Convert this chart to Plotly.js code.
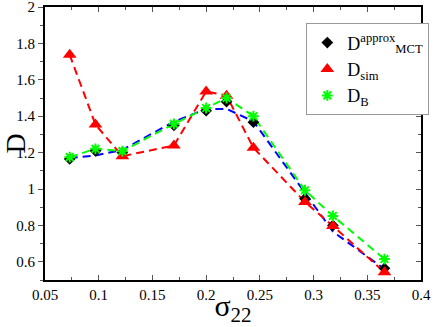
<!DOCTYPE html>
<html>
<head>
<meta charset="utf-8">
<script src="https://cdn.plot.ly/plotly-3.0.1.min.js"></script>
<style>html,body{margin:0;padding:0;background:#fff;}#chart{width:436px;height:327px;}</style>
</head>
<body>
<div id="chart"></div>
<script>
var sigma = [0.073, 0.097, 0.122, 0.170, 0.200, 0.219, 0.244, 0.292, 0.318, 0.366];
var dApprox = [1.165, 1.21, 1.20, 1.35, 1.43, 1.48, 1.367, 0.947, 0.80, 0.564];
var dApproxLine = [1.17, 1.184, 1.215, 1.37, 1.44, 1.44, 1.372, 0.976, 0.766, 0.56];
var dSim = [1.737, 1.354, 1.18, 1.239, 1.536, 1.513, 1.227, 0.929, 0.797, 0.542];
var dB = [1.175, 1.221, 1.208, 1.358, 1.445, 1.50, 1.40, 0.993, 0.852, 0.615];
var xTicks = [0.05, 0.1, 0.15, 0.2, 0.25, 0.3, 0.35, 0.4];
var xTickText = ['0.05', '0.1', '0.15', '0.2', '0.25', '0.3', '0.35', '0.4'];
var yTicks = [0.6, 0.8, 1, 1.2, 1.4, 1.6, 1.8, 2];
var yTickText = ['0.6', '0.8', '1', '1.2', '1.4', '1.6', '1.8', '2'];

var serif = 'Liberation Serif';

var traces = [
  {x: sigma, y: dApproxLine, mode: 'lines', showlegend: false,
   line: {color: '#0000ff', width: 2, dash: '8px,5px'}},
  {x: sigma, y: dSim, mode: 'lines', showlegend: false,
   line: {color: '#ff0000', width: 2, dash: '8px,5px'}},
  {x: sigma, y: dB, mode: 'lines', showlegend: false,
   line: {color: '#00ff00', width: 2, dash: '8px,5px'}},
  {x: sigma, y: dApprox, mode: 'markers', name: 'D<sup>approx</sup><sub>MCT</sub>',
   marker: {symbol: 'diamond', color: '#000000', size: 9}},
  {x: sigma, y: dSim, mode: 'markers', name: 'D<sub>sim</sub>',
   marker: {symbol: 'triangle-up', color: '#ff0000', size: 12}},
  {x: sigma, y: dB, mode: 'markers', name: 'D<sub>B</sub>',
   marker: {symbol: 'asterisk-open', color: '#00ff00', size: 9, line: {color: '#00ff00', width: 2}}}
];

var xr = [0.05, 0.4], yr = [0.5, 2];
var tickC = '#555';
var layout = {
  width: 436, height: 327,
  margin: {l: 45, r: 13, t: 7, b: 47},
  paper_bgcolor: '#ffffff', plot_bgcolor: '#ffffff',
  font: {family: serif, color: '#000', size: 15},
  showlegend: true,
  legend: {x: 0.695, y: 0.94, xanchor: 'left', yanchor: 'top',
    bgcolor: '#ffffff', bordercolor: '#999999', borderwidth: 1,
    font: {family: serif, size: 18, color: '#000'}, itemwidth: 30, tracegroupgap: 0},
  xaxis: {range: xr, tickmode: 'array', tickvals: xTicks, ticktext: xTickText, showgrid: false, zeroline: false,
    showline: true, linecolor: '#000', linewidth: 2, ticks: 'inside', ticklen: 5, tickcolor: tickC, tickwidth: 1,
    ticklabeloverflow: 'allow',
    minor: {dtick: 0.025, tick0: 0, ticks: 'inside', ticklen: 3, tickcolor: tickC, showgrid: false},
    tickfont: {family: serif, size: 15, color: '#000'}, title: {text: 'σ<sub>22</sub>', font: {family: serif, size: 30}, standoff: 2}},
  yaxis: {range: yr, tickmode: 'array', tickvals: yTicks, ticktext: yTickText, showgrid: false, zeroline: false,
    showline: true, linecolor: '#000', linewidth: 2, ticks: 'outside', ticklen: 5, tickcolor: tickC, tickwidth: 1,
    ticklabeloverflow: 'allow',
    minor: {dtick: 0.1, tick0: 0, ticks: 'outside', ticklen: 3, tickcolor: tickC, showgrid: false},
    tickfont: {family: serif, size: 15, color: '#000'}, title: {text: 'D', font: {family: serif, size: 28}, standoff: 11}},
  xaxis2: {range: xr, overlaying: 'x', side: 'top', anchor: 'y', tickmode: 'array', tickvals: xTicks, showgrid: false, zeroline: false,
    showline: true, linecolor: '#000', linewidth: 2, ticks: 'inside', ticklen: 5, tickcolor: tickC, showticklabels: false,
    minor: {dtick: 0.025, tick0: 0, ticks: 'inside', ticklen: 3, tickcolor: tickC, showgrid: false}},
  yaxis2: {range: yr, overlaying: 'y', side: 'right', anchor: 'x', tickmode: 'array', tickvals: yTicks, showgrid: false, zeroline: false,
    showline: true, linecolor: '#000', linewidth: 2, ticks: 'inside', ticklen: 5, tickcolor: tickC, showticklabels: false,
    minor: {dtick: 0.1, tick0: 0, ticks: 'inside', ticklen: 3, tickcolor: tickC, showgrid: false}}
};
traces.push({x: [], y: [], xaxis: 'x2', yaxis: 'y2', showlegend: false, hoverinfo: 'skip'});
Plotly.newPlot('chart', traces, layout, {displayModeBar: false, staticPlot: true});
</script>
</body>
</html>
